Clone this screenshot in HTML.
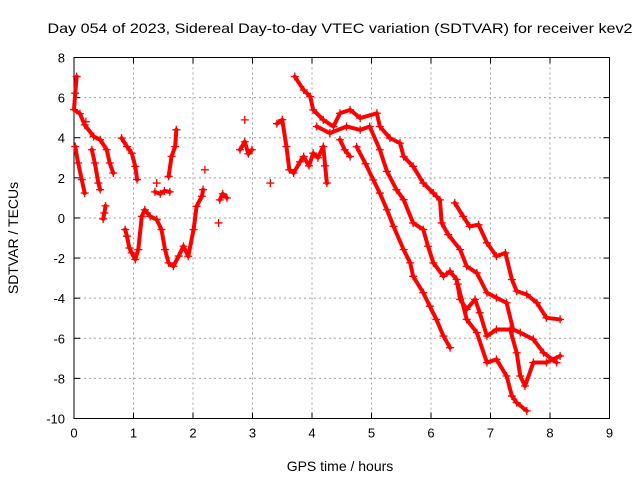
<!DOCTYPE html>
<html><head><meta charset="utf-8"><style>
body{margin:0;background:#fff;}
svg{display:block;font-family:"Liberation Sans",Arial,sans-serif;}
</style></head><body>
<svg id="chart" width="640" height="480" viewBox="0 0 640 480" xmlns="http://www.w3.org/2000/svg">
<rect width="640" height="480" fill="#fff"/>
<text x="340" y="33" font-size="14" text-anchor="middle" textLength="585" lengthAdjust="spacingAndGlyphs">Day 054 of 2023, Sidereal Day-to-day VTEC variation (SDTVAR) for receiver kev2</text>
<g id="grid"></g>
<g id="axes"></g>
<g id="marks"></g>
<text x="340" y="471" font-size="14" text-anchor="middle">GPS time / hours</text>
<text x="0" y="0" font-size="14" text-anchor="middle" transform="translate(18,238) rotate(-90)">SDTVAR / TECUs</text>
</svg>
<script>
const xTicks=[0,1,2,3,4,5,6,7,8,9];
const yTicks=[8,6,4,2,0,-2,-4,-6,-8,-10];
const seg1=[[0.045,7.05],[0.02,6.22],[0.0,5.4],[0.1,5.2],[0.18,4.64],[0.33,4.06],[0.44,3.9],[0.55,3.4],[0.6,2.74],[0.66,2.24]];
const seg2=[[0.02,3.56],[0.07,2.74],[0.13,1.91],[0.18,1.24]];
const seg3=[[0.3,3.4],[0.35,2.74],[0.41,1.74],[0.44,1.41]];
const seg4=[[0.49,-0.05],[0.51,0.25],[0.53,0.6]];
const seg5=[[0.8,3.98],[0.89,3.56],[0.97,3.23],[1.03,2.57],[1.06,1.91]];
const seg6=[[0.86,-0.58],[0.89,-0.91],[0.93,-1.5],[0.97,-1.74],[1.03,-2.07],[1.08,-1.58],[1.14,0.08],[1.19,0.41],[1.28,0.08],[1.39,-0.08],[1.47,-0.58],[1.53,-1.58],[1.59,-2.24],[1.67,-2.41],[1.76,-1.9],[1.84,-1.41],[1.92,-1.91],[2.01,-0.58],[2.06,0.58],[2.15,1.08],[2.17,1.41]];
const seg7=[[1.36,1.3],[1.45,1.2],[1.52,1.35],[1.61,1.3]];
const seg8=[[1.59,2.07],[1.64,3.07],[1.7,3.56],[1.72,4.39]];
const seg9=[[2.45,0.9],[2.5,1.2],[2.57,1.0]];
const seg10=[[2.79,3.4],[2.87,3.8],[2.93,3.2],[2.99,3.4]];
const singles=[[3.3,1.74],[2.2,2.4],[2.43,-0.25],[2.87,4.89],[1.39,1.74],[0.2,4.8],[1.72,4.39]];
const seg12=[[3.41,4.7],[3.5,4.9],[3.57,3.56],[3.62,2.4],[3.69,2.24],[3.8,2.8],[3.86,3.06],[3.95,2.6],[4.02,3.23],[4.1,3.0],[4.19,3.56],[4.22,2.6],[4.25,1.74]];
const seg13=[[3.71,7.05],[3.86,6.38],[3.97,6.05],[4.02,5.39],[4.19,4.89],[4.36,4.56],[4.47,5.22],[4.64,5.39],[4.81,4.98],[5.09,5.22],[5.14,4.56],[5.31,3.98],[5.48,3.73],[5.54,3.06],[5.7,2.57],[5.87,1.74],[6.04,1.24],[6.15,0.9],[6.18,-0.25],[6.29,-0.83],[6.49,-1.58],[6.6,-2.41],[6.77,-2.74],[6.94,-3.73],[7.1,-3.98],[7.27,-4.23],[7.38,-5.56],[7.5,-5.72],[7.72,-6.05],[7.89,-6.72],[8.11,-7.21]];
const seg14=[[4.08,4.56],[4.3,4.23],[4.58,4.56],[4.81,4.39],[4.97,4.56],[5.14,3.4],[5.26,2.32],[5.42,1.41],[5.54,0.91],[5.7,-0.25],[5.87,-0.58],[5.95,-1.41],[6.04,-2.24],[6.21,-2.91],[6.32,-2.66],[6.43,-3.07],[6.49,-4.06],[6.6,-4.56],[6.74,-4.06],[6.82,-4.73],[6.94,-5.89],[7.1,-5.56],[7.33,-5.56],[7.44,-6.72],[7.5,-7.88],[7.58,-8.38],[7.72,-7.21],[7.94,-7.21],[8.17,-6.88]];
const seg15=[[4.47,3.9],[4.55,3.4],[4.64,3.06]];
const seg16=[[4.75,3.55],[4.9,2.7],[5.03,1.9],[5.14,1.24],[5.26,0.41],[5.37,-0.42],[5.54,-1.58],[5.65,-2.24],[5.7,-2.91],[5.87,-3.73],[5.98,-4.4],[6.09,-5.06],[6.21,-5.89],[6.32,-6.47]];
const seg17=[[6.45,-3.3],[6.6,-5.06],[6.77,-5.72],[6.94,-7.21],[7.1,-7.05],[7.27,-7.88],[7.36,-8.88],[7.44,-9.21],[7.61,-9.62]];
const seg18=[[6.4,0.75],[6.54,0.08],[6.65,-0.42],[6.8,-0.34],[6.94,-1.24],[7.1,-1.91],[7.25,-1.74],[7.36,-3.07],[7.44,-3.65],[7.61,-3.82],[7.78,-4.23],[7.94,-4.98],[8.17,-5.06]];
const seriesList=[seg1,seg2,seg3,seg4,seg5,seg6,seg7,seg8,seg9,seg10,seg12,seg13,seg14,seg15,seg16,seg17,seg18];

const L=74,R=609.5,T=57.5,B=418.5;
const xS=v=>L+(v-0)/9*(R-L);
const yS=v=>T+(8-v)/18*(B-T);
const NS="http://www.w3.org/2000/svg";
function mk(tag,attrs,parent){const e=document.createElementNS(NS,tag);for(const k in attrs)e.setAttribute(k,attrs[k]);parent.appendChild(e);return e;}
const grid=document.getElementById('grid'),axes=document.getElementById('axes'),marks=document.getElementById('marks');
xTicks.forEach(t=>{
  const x=xS(t);
  if(t>0&&t<9){const g=mk('line',{x1:x,x2:x,y1:T,y2:B,stroke:'#a0a0a0','stroke-dasharray':'2,3','stroke-width':1},grid);
  
  }
  mk('line',{x1:x,x2:x,y1:B,y2:B-6,stroke:'#000'},axes);
  mk('line',{x1:x,x2:x,y1:T,y2:T+6,stroke:'#000'},axes);
  const lb=mk('text',{x:x,y:B+19,'font-size':13,'text-anchor':'middle'},axes);
  lb.textContent=t;
  
  
});
yTicks.forEach(t=>{
  const y=yS(t);
  if(t<8&&t>-10){const g=mk('line',{x1:L,x2:R,y1:y,y2:y,stroke:'#a0a0a0','stroke-dasharray':'2,3','stroke-width':1},grid);
  
  }
  mk('line',{x1:L,x2:L+6,y1:y,y2:y,stroke:'#000'},axes);
  mk('line',{x1:R,x2:R-6,y1:y,y2:y,stroke:'#000'},axes);
  const lb=mk('text',{x:L-9,y:y+5,'font-size':13,'text-anchor':'end'},axes);
  lb.textContent=t;
  
  
});
mk('rect',{x:L,y:T,width:R-L,height:B-T,fill:'none',stroke:'#000','stroke-width':1},axes);
function plus(p){
  const x=xS(p[0]),y=yS(p[1]);
  const pt=mk('path',{d:`M${x-4},${y}h8M${x},${y-4}v8`,stroke:'#ff0000','stroke-width':1.3},marks);
  
  
}
seriesList.forEach(s=>{
  const pl=mk('polyline',{points:s.map(p=>xS(p[0])+','+yS(p[1])).join(' '),fill:'none',stroke:'#ff0000','stroke-width':4,'stroke-linejoin':'round','stroke-linecap':'round'},marks);
  
  
  s.forEach(plus);
});
singles.forEach(plus);
</script>
</body></html>
